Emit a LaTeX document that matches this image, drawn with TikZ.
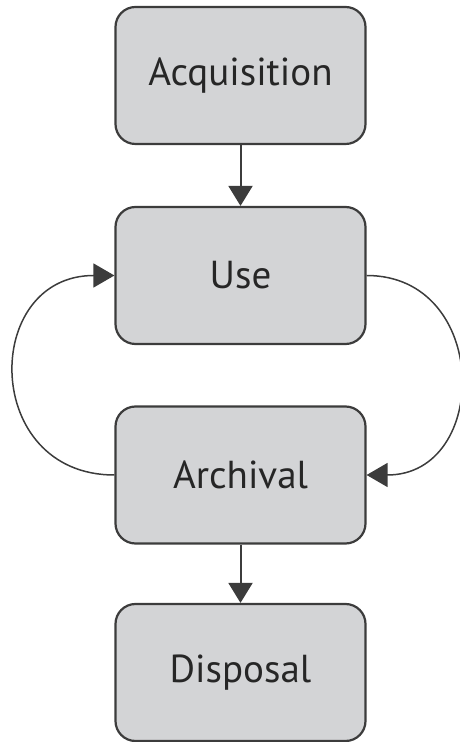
\documentclass[tikz,border=0pt]{standalone}
\usepackage{fontspec}
\setmainfont{PT Sans}
\usetikzlibrary{arrows.meta}
\definecolor{boxfill}{HTML}{D3D4D6}
\definecolor{boxline}{HTML}{3C3C3C}
\definecolor{txt}{HTML}{262626}
\begin{document}
\begin{tikzpicture}[x=1pt,y=1pt,
  stage/.style={draw=boxline, line width=2.2pt, fill=boxfill, rounded corners=20pt,
    minimum width=250pt, minimum height=137pt, inner sep=0pt, text=txt,
    font=\fontsize{39}{44}\selectfont},
  flow/.style={draw=boxline, line width=2pt, -{Triangle[width=24pt,length=20pt]}},
  loop/.style={draw=boxline, line width=1.5pt, -{Triangle[width=24pt,length=21pt]}}]
\useasboundingbox (0,0) rectangle (459,742);
\node[stage] (acq) at (240.5,666.5) {Acquisition};
\node[stage] (use) at (240.5,466.5) {Use};
\node[stage] (arch) at (240.5,267) {Archival};
\node[stage] (disp) at (240.5,69.5) {Disposal};
\draw[flow] (acq) -- (use);
\draw[flow] (arch) -- (disp);
\draw[loop] (arch.west) .. controls +(-133,0) and +(-133,0) .. (use.west);
\draw[loop] (use.east) .. controls +(124,0) and +(124,0) .. (arch.east);
\end{tikzpicture}
\end{document}
